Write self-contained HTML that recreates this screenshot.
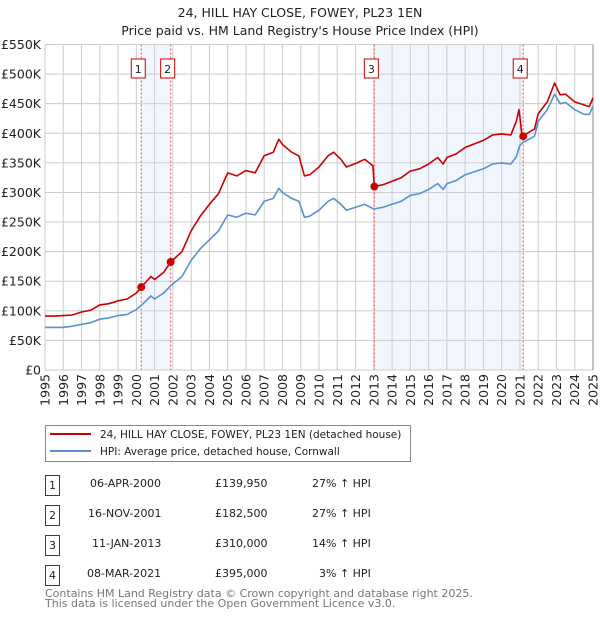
<!DOCTYPE html>
<html><head><meta charset="utf-8"><style>
body{margin:0;background:#fff;font-family:"DejaVu Sans","Liberation Sans",sans-serif;}
#wrap{position:relative;width:600px;height:620px;overflow:hidden}
svg text{font-family:"DejaVu Sans","Liberation Sans",sans-serif}
</style></head><body><div id="wrap">
<svg id="chart" width="600" height="620"></svg>
</div>
<script>
const hpiDates=[1995,1995.5,1996,1996.5,1997,1997.5,1998,1998.5,1999,1999.5,2000,2000.3,2000.8,2001,2001.5,2001.9,2002.5,2003,2003.5,2004,2004.5,2005,2005.5,2006,2006.5,2007,2007.5,2007.8,2008,2008.5,2008.9,2009.2,2009.5,2010,2010.5,2010.8,2011.2,2011.5,2012,2012.5,2013,2013.5,2014,2014.5,2015,2015.5,2016,2016.5,2016.8,2017,2017.5,2018,2018.5,2019,2019.5,2020,2020.5,2020.8,2021,2021.2,2021.5,2021.8,2022,2022.5,2022.9,2023.2,2023.5,2024,2024.5,2024.8,2025];
const hpiValues=[72,72,72,74,77,80,86,88,92,94,102,110,125,120,130,143,158,185,205,220,235,262,258,265,262,285,290,307,300,290,285,258,260,270,285,290,280,270,275,280,272,275,280,285,295,298,305,315,305,315,320,330,335,340,348,350,348,360,380,385,390,395,420,440,466,450,452,440,432,432,445];
const redDates=[1995,1995.5,1996,1996.5,1997,1997.5,1998,1998.5,1999,1999.5,2000,2000.27,2000.8,2001,2001.5,2001.88,2002.5,2003,2003.5,2004,2004.5,2005,2005.5,2006,2006.5,2007,2007.5,2007.8,2008,2008.5,2008.9,2009.2,2009.5,2010,2010.5,2010.8,2011.2,2011.5,2012,2012.5,2012.95,2013.03,2013.5,2014,2014.5,2015,2015.5,2016,2016.5,2016.8,2017,2017.5,2018,2018.5,2019,2019.5,2020,2020.5,2020.8,2020.95,2021.1,2021.18,2021.5,2021.8,2022,2022.5,2022.9,2023.2,2023.5,2024,2024.5,2024.8,2025];
const redValues=[91,91,92,93,98,101,110,112,117,120,130,140,158,153,165,182.5,200,235,260,280,298,333,328,337,333,362,368,390,381,368,362,328,330,343,362,368,356,343,349,356,345,310,313,319,325,336,340,348,359,348,359,365,376,382,388,397,399,397,420,440,400,395,402,407,433,453,485,465,466,453,448,445,460];
const saleDates=[2000.27,2001.88,2013.03,2021.18];
const salePrices=[139.95,182.5,310,395];
const saleLabels=["1","2","3","4"];
const yTicks=[0,50,100,150,200,250,300,350,400,450,500,550];
const yTickLabels=["£0","£50K","£100K","£150K","£200K","£250K","£300K","£350K","£400K","£450K","£500K","£550K"];
const xYears=[1995,1996,1997,1998,1999,2000,2001,2002,2003,2004,2005,2006,2007,2008,2009,2010,2011,2012,2013,2014,2015,2016,2017,2018,2019,2020,2021,2022,2023,2024,2025];

const NS="http://www.w3.org/2000/svg";
const svg=document.getElementById('chart');
const L=45,R=593,T=44.5,B=370;
const xs=v=>L+(v-1995)/30*(R-L);
const ys=v=>B-v/550*(B-T);
function mk(tag,attrs,parent){const e=document.createElementNS(NS,tag);for(const k in attrs)e.setAttribute(k,attrs[k]);(parent||svg).appendChild(e);return e;}

let t=mk('text',{x:300,y:17,'text-anchor':'middle','font-size':'12.5',fill:'#222'});t.textContent='24, HILL HAY CLOSE, FOWEY, PL23 1EN';


t=mk('text',{x:300,y:35,'text-anchor':'middle','font-size':'12.5',fill:'#222'});t.textContent="Price paid vs. HM Land Registry's House Price Index (HPI)";



for(const [a,b] of [[0,1],[2,3]]){
 const r=mk('rect',{x:xs(saleDates[a]),y:T,width:xs(saleDates[b])-xs(saleDates[a]),height:B-T,fill:'#eef3fc',opacity:0.8});
 
 
}
yTicks.forEach((v,i)=>{
 const g=mk('line',{x1:L,x2:R,y1:ys(v),y2:ys(v),stroke:'#cccccc','stroke-width':1});
 
 
 const tx=mk('text',{x:L-4,y:ys(v)+4.5,'text-anchor':'end','font-size':'12.5',fill:'#222'});tx.textContent=yTickLabels[i];
 
 
});
xYears.forEach(yr=>{
 const g=mk('line',{x1:xs(yr),x2:xs(yr),y1:T,y2:B,stroke:'#cccccc','stroke-width':1});
 
 
 const tx=mk('text',{x:0,y:0,'text-anchor':'end','font-size':'12.5',fill:'#222',transform:`translate(${xs(yr)+4.5},${B+4}) rotate(-90)`});tx.textContent=yr;
 
 
});
const fr=mk('rect',{x:L,y:T,width:R-L,height:B-T,fill:'none',stroke:'#cccccc'});


const ra=mk('line',{x1:R,x2:R,y1:T,y2:B,stroke:'#888'});



saleDates.forEach((d,i)=>{
 const l=mk('line',{x1:xs(d),x2:xs(d),y1:T,y2:B,stroke:'#e55','stroke-width':1,'stroke-dasharray':'2,2'});
 
 
 const bx=mk('rect',{x:xs(d)-10,y:59,width:14,height:19,fill:'#fff',stroke:'#c00','stroke-width':1});
 
 
 const tx=mk('text',{x:xs(d)-3,y:73,'text-anchor':'middle','font-size':'11',fill:'#222'});tx.textContent=saleLabels[i];
 
 
});
function path(dates,vals,color,name){
 const d=dates.map((x,i)=>(i?'L':'M')+xs(x).toFixed(1)+','+ys(vals[i]).toFixed(1)).join('');
 const p=mk('path',{d,fill:'none',stroke:color,'stroke-width':1.6,'stroke-linejoin':'round'});
 
 
}
path(hpiDates,hpiValues,'#5b8fd4','hpi-line');
path(redDates,redValues,'#cc0000','price-paid-line');
saleDates.forEach((d,i)=>{
 const c=mk('circle',{cx:xs(d),cy:ys(salePrices[i]),r:4,fill:'#cc0000'});
 
 
});

const lg=mk('rect',{x:45.5,y:425.5,width:365,height:36,fill:'#fff',stroke:'#888'});


let ll=mk('line',{x1:50,x2:91,y1:434,y2:434,stroke:'#cc0000','stroke-width':2});


t=mk('text',{x:100,y:438,'font-size':'10.5',fill:'#222'});t.textContent='24, HILL HAY CLOSE, FOWEY, PL23 1EN (detached house)';


ll=mk('line',{x1:50,x2:91,y1:451,y2:451,stroke:'#5b8fd4','stroke-width':2});


t=mk('text',{x:100,y:455,'font-size':'10.5',fill:'#222'});t.textContent='HPI: Average price, detached house, Cornwall';


</script>
<div style="position:absolute;left:0;top:0;width:600px;font-size:11px;color:#222">
<div>
<div style="position:absolute;left:45px;top:475px;width:13px;height:19px;border:1px solid #c00;text-align:center;line-height:19px">1</div>
<div style="position:absolute;left:90px;top:477px">06-APR-2000</div>
<div style="position:absolute;left:215px;top:477px">£139,950</div>
<div style="position:absolute;left:312px;top:477px">27% ↑ HPI</div></div>
<div>
<div style="position:absolute;left:45px;top:505px;width:13px;height:19px;border:1px solid #c00;text-align:center;line-height:19px">2</div>
<div style="position:absolute;left:88px;top:507px">16-NOV-2001</div>
<div style="position:absolute;left:215px;top:507px">£182,500</div>
<div style="position:absolute;left:312px;top:507px">27% ↑ HPI</div></div>
<div>
<div style="position:absolute;left:45px;top:535px;width:13px;height:19px;border:1px solid #c00;text-align:center;line-height:19px">3</div>
<div style="position:absolute;left:92px;top:537px">11-JAN-2013</div>
<div style="position:absolute;left:215px;top:537px">£310,000</div>
<div style="position:absolute;left:312px;top:537px">14% ↑ HPI</div></div>
<div>
<div style="position:absolute;left:45px;top:565px;width:13px;height:19px;border:1px solid #c00;text-align:center;line-height:19px">4</div>
<div style="position:absolute;left:87px;top:567px">08-MAR-2021</div>
<div style="position:absolute;left:215px;top:567px">£395,000</div>
<div style="position:absolute;left:319px;top:567px">3% ↑ HPI</div></div>
<div style="position:absolute;left:45px;top:589px;color:#777;font-size:11px;line-height:10px">Contains HM Land Registry data © Crown copyright and database right 2025.<br>This data is licensed under the Open Government Licence v3.0.</div>
</div>
</body></html>
